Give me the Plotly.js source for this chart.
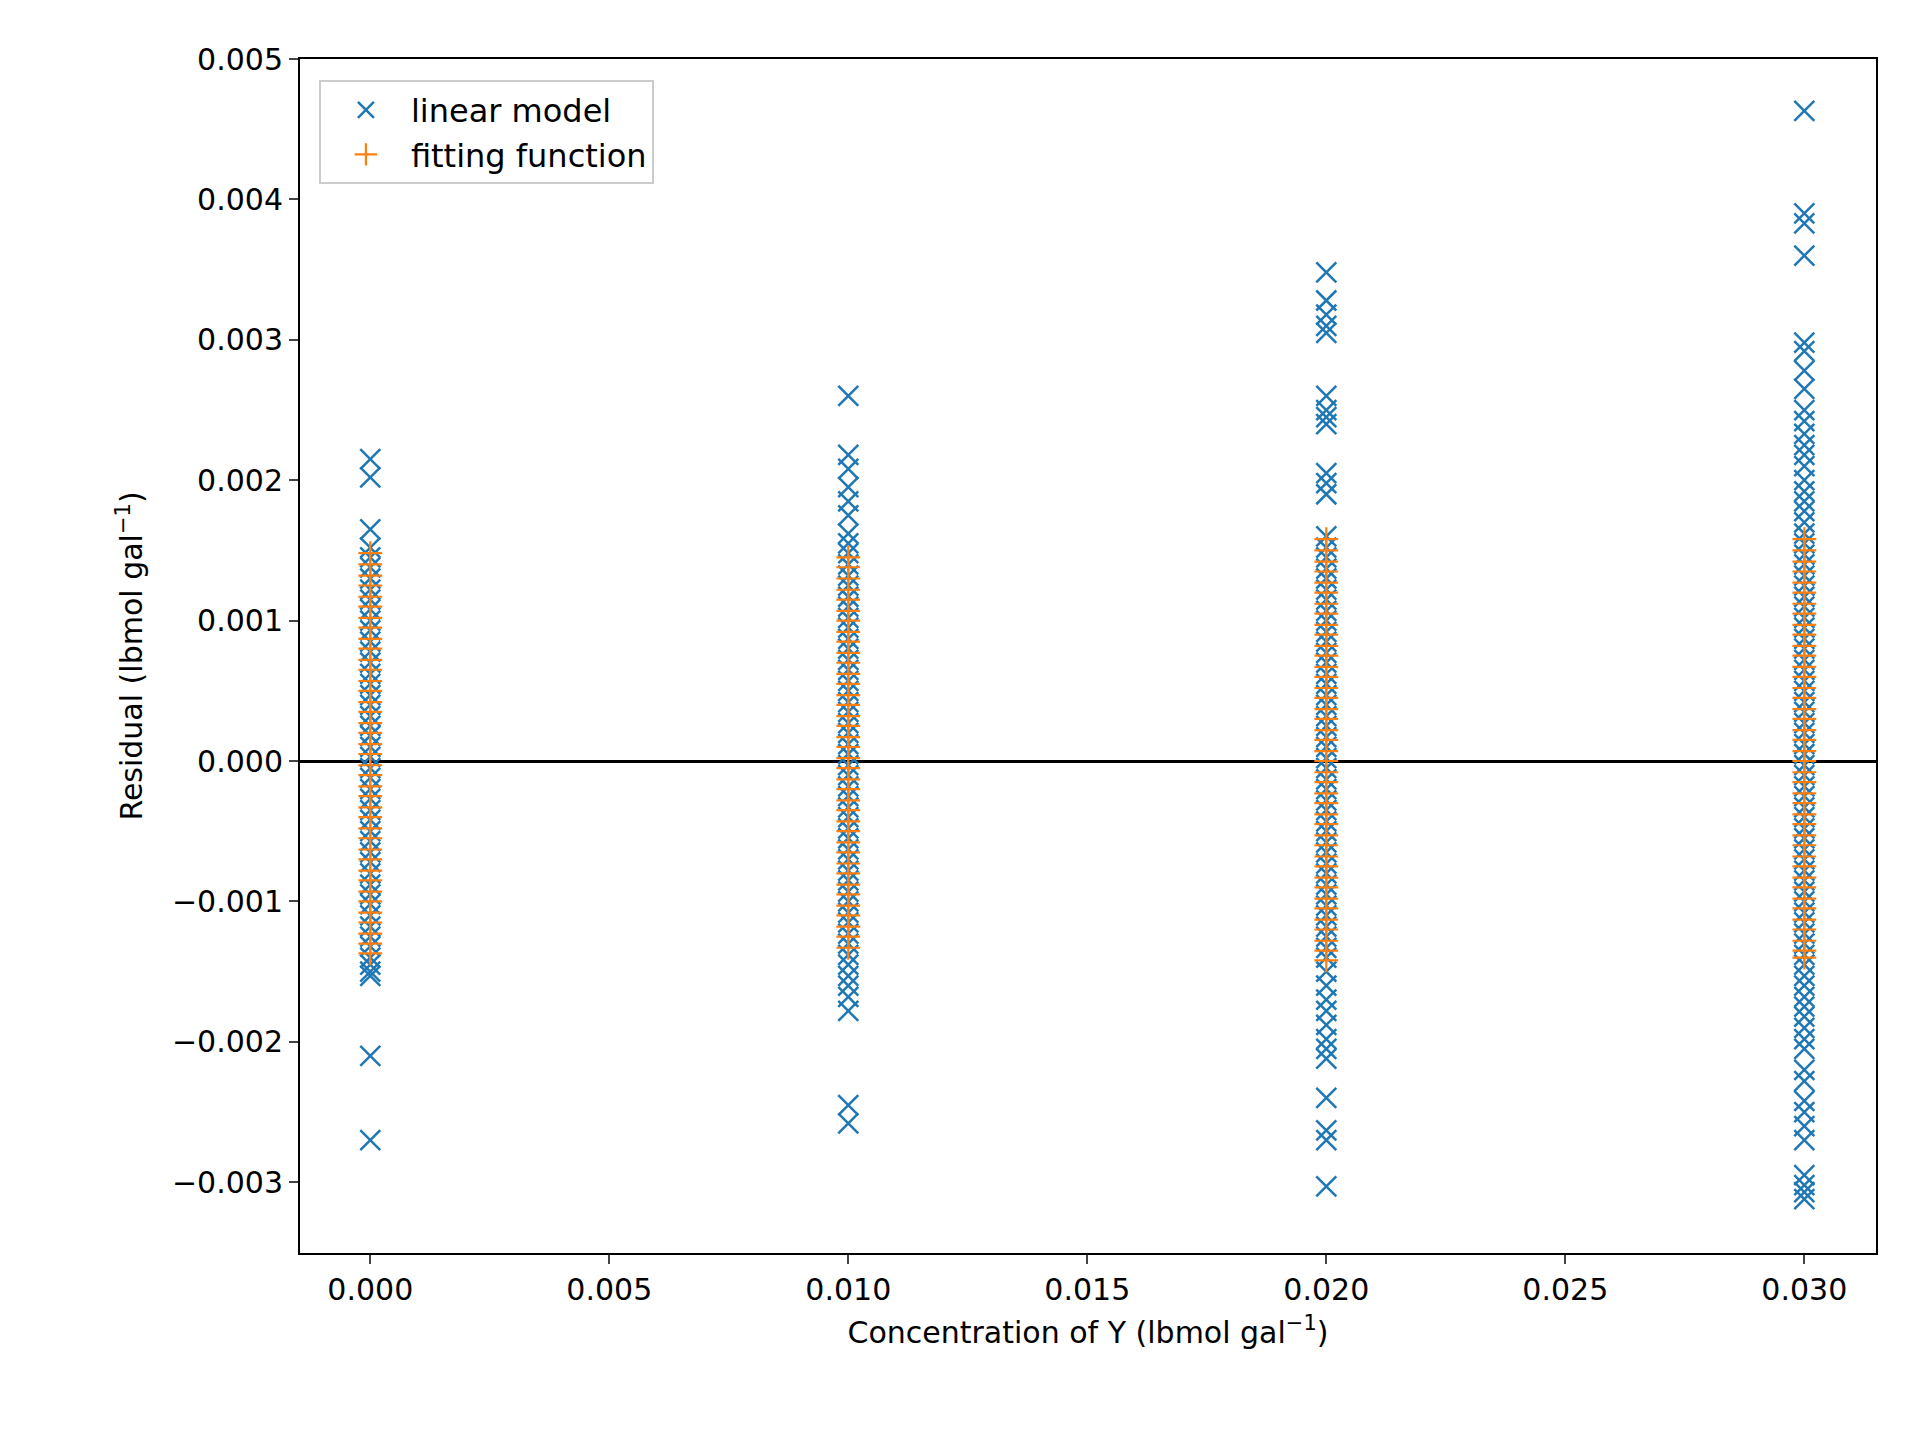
<!DOCTYPE html>
<html><head><meta charset="utf-8">
<script src="https://cdn.plot.ly/plotly-3.0.1.min.js"></script>
<style>body{margin:0;background:#fff}#c{width:1920px;height:1440px}</style>
</head><body><div id="c"></div>
<script>
// residuals in units of 0.001 lbmol/gal
const concentrations = [0.000, 0.010, 0.020, 0.030];
const linear0 = [2.15,2.02,1.65,1.52,1.45,1.38,1.3,1.22,1.15,1.08,1.0,0.93,0.85,0.78,0.7,0.62,0.55,0.47,0.4,0.32,0.25,0.18,0.1,0.03,-0.05,-0.12,-0.2,-0.27,-0.35,-0.42,-0.5,-0.57,-0.65,-0.72,-0.8,-0.88,-0.95,-1.02,-1.1,-1.18,-1.25,-1.32,-1.4,-1.45,-1.5,-1.53,-2.1,-2.7];
const linear1 = [2.6,2.18,2.08,1.95,1.85,1.75,1.62,1.55,1.48,1.4,1.32,1.25,1.17,1.1,1.02,0.95,0.87,0.8,0.72,0.65,0.57,0.5,0.42,0.35,0.27,0.2,0.12,0.05,-0.03,-0.1,-0.18,-0.25,-0.33,-0.4,-0.48,-0.55,-0.63,-0.7,-0.78,-0.85,-0.93,-1.0,-1.08,-1.15,-1.23,-1.3,-1.38,-1.45,-1.53,-1.6,-1.68,-1.78,-2.45,-2.58];
const linear2 = [3.48,3.28,3.18,3.1,3.05,2.6,2.5,2.45,2.4,2.05,1.98,1.9,1.6,1.52,1.45,1.37,1.3,1.22,1.15,1.07,1.0,0.92,0.85,0.77,0.7,0.62,0.55,0.47,0.4,0.32,0.25,0.17,0.1,0.02,-0.05,-0.13,-0.2,-0.28,-0.35,-0.43,-0.5,-0.58,-0.65,-0.73,-0.8,-0.88,-0.95,-1.03,-1.1,-1.18,-1.25,-1.33,-1.4,-1.5,-1.6,-1.7,-1.78,-1.88,-1.98,-2.05,-2.12,-2.4,-2.63,-2.7,-3.03];
const linear3 = [4.63,3.9,3.83,3.6,2.98,2.92,2.78,2.65,2.5,2.42,2.33,2.25,2.18,2.1,2.0,1.92,1.85,1.78,1.7,1.62,1.55,1.47,1.4,1.32,1.25,1.17,1.1,1.02,0.95,0.87,0.8,0.72,0.65,0.57,0.5,0.42,0.35,0.27,0.2,0.12,0.05,-0.03,-0.1,-0.18,-0.25,-0.33,-0.4,-0.48,-0.55,-0.63,-0.7,-0.78,-0.85,-0.93,-1.0,-1.08,-1.15,-1.23,-1.3,-1.38,-1.45,-1.53,-1.6,-1.68,-1.75,-1.82,-1.9,-1.98,-2.05,-2.2,-2.28,-2.42,-2.5,-2.6,-2.7,-2.95,-3.02,-3.07,-3.12];
const fit0 = [1.48,1.4,1.32,1.25,1.17,1.1,1.02,0.95,0.87,0.8,0.72,0.65,0.57,0.5,0.42,0.35,0.27,0.2,0.12,0.05,-0.03,-0.1,-0.18,-0.25,-0.33,-0.4,-0.48,-0.55,-0.63,-0.7,-0.78,-0.85,-0.93,-1.0,-1.08,-1.15,-1.23,-1.3,-1.37];
const fit1 = [1.45,1.38,1.3,1.22,1.15,1.07,1.0,0.92,0.85,0.77,0.7,0.62,0.55,0.47,0.4,0.32,0.25,0.17,0.1,0.02,-0.05,-0.13,-0.2,-0.28,-0.35,-0.43,-0.5,-0.58,-0.65,-0.73,-0.8,-0.88,-0.95,-1.03,-1.1,-1.18,-1.25,-1.33];
const fit2 = [1.58,1.5,1.42,1.35,1.27,1.2,1.12,1.05,0.97,0.9,0.82,0.75,0.67,0.6,0.52,0.45,0.37,0.3,0.22,0.15,0.07,0.0,-0.08,-0.15,-0.23,-0.3,-0.38,-0.45,-0.53,-0.6,-0.68,-0.75,-0.83,-0.9,-0.98,-1.05,-1.13,-1.2,-1.28,-1.35,-1.42];
const fit3 = [1.58,1.5,1.42,1.35,1.27,1.2,1.12,1.05,0.97,0.9,0.82,0.75,0.67,0.6,0.52,0.45,0.37,0.3,0.22,0.15,0.07,0.0,-0.08,-0.15,-0.23,-0.3,-0.38,-0.45,-0.53,-0.6,-0.68,-0.75,-0.83,-0.9,-0.98,-1.05,-1.13,-1.2,-1.28,-1.35,-1.4];

function build(groups){
  const xs=[], ys=[];
  groups.forEach((g,i)=>g.forEach(v=>{xs.push(concentrations[i]); ys.push(v/1000);}));
  return {xs, ys};
}
const L = build([linear0,linear1,linear2,linear3]);
const F = build([fit0,fit1,fit2,fit3]);
const font = {family:'DejaVu Sans', size:30, color:'#000'};
const data = [
 {x:L.xs, y:L.ys, type:'scatter', mode:'markers', name:'linear model',
  marker:{symbol:'x-thin-open', size:20, color:'#1f77b4', line:{width:2.5, color:'#1f77b4'}}},
 {x:F.xs, y:F.ys, type:'scatter', mode:'markers', name:'fitting function',
  marker:{symbol:'cross-thin-open', size:17, color:'#ff7f0e', line:{width:2.2, color:'#ff7f0e'}}}
];
const layout = {
 width:1920, height:1440, paper_bgcolor:'#fff', plot_bgcolor:'#fff', font:font,
 margin:{l:300, r:44, t:59, b:187},
 showlegend:true,
 legend:{x:0.012, y:0.982, xanchor:'left', yanchor:'top', bordercolor:'#ccc', borderwidth:2,
   bgcolor:'rgba(255,255,255,0.8)', font:{family:'DejaVu Sans', size:32}, itemwidth:80, tracegroupgap:12},
 xaxis:{range:[-0.00147,0.0315], tickvals:[0,0.005,0.01,0.015,0.02,0.025,0.03],
   ticktext:['0.000','0.005','0.010','0.015','0.020','0.025','0.030'],
   showline:true, mirror:true, linecolor:'#000', linewidth:2, ticks:'outside', ticklen:9, tickwidth:2,
   showgrid:false, zeroline:false, tickfont:{size:30},
   title:{text:'Concentration of Y (lbmol gal<sup>−1</sup>)', font:{size:30}, standoff:16}},
 yaxis:{range:[-0.003504,0.005], tickvals:[-0.003,-0.002,-0.001,0,0.001,0.002,0.003,0.004,0.005],
   ticktext:['−0.003','−0.002','−0.001','0.000','0.001','0.002','0.003','0.004','0.005'],
   showline:true, mirror:true, linecolor:'#000', linewidth:2, ticks:'outside', ticklen:9, tickwidth:2,
   showgrid:false, zeroline:true, zerolinecolor:'#000', zerolinewidth:3, tickfont:{size:30},
   title:{text:'Residual (lbmol gal<sup>−1</sup>)', font:{size:30}, standoff:20}}
};
Plotly.newPlot('c', data, layout, {displayModeBar:false});
</script></body></html>
